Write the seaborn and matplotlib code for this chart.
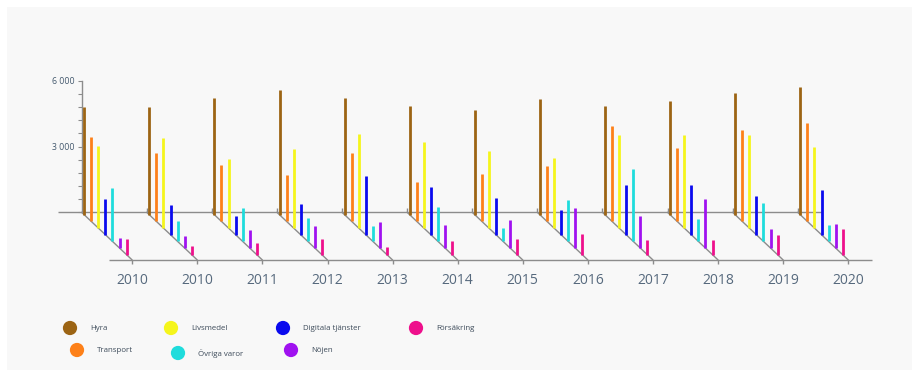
import numpy as np
import pandas as pd
import seaborn as sns
import matplotlib.pyplot as plt
from matplotlib.patches import Rectangle

# data
years = ['2010', '2010', '2011', '2012', '2013', '2014', '2015',
         '2016', '2017', '2018', '2019', '2020']
categories = ['Hyra', 'Transport', 'Livsmedel', 'Digitala tjänster',
              'Övriga varor', 'Nöjen', 'Försäkring']
hyra = [4920, 4920, 5320, 5680, 5320, 4950, 4760, 5260, 4950, 5180, 5550, 5820]
transport = [3860, 3110, 2580, 2120, 3110, 1790, 2180, 2550, 4360, 3330, 4150, 4470]
livsmedel = [3740, 4110, 3150, 3620, 4290, 3920, 3500, 3200, 4260, 4260, 4260, 3700]
digitala = [1610, 1360, 860, 1390, 2680, 2180, 1680, 1140, 2260, 2260, 1760, 2030]
ovriga = [2450, 940, 1530, 1090, 700, 1580, 590, 1880, 3320, 1030, 1760, 760]
nojen = [450, 560, 820, 1000, 1180, 1030, 1290, 1850, 1450, 2240, 860, 1080]
forsakring = [740, 420, 530, 740, 350, 610, 740, 950, 680, 680, 920, 1180]
y_ticks = [0, 600, 1200, 1800, 2400, 3000, 3600, 4200, 4800, 5400, 6000]
y_labels = ['', '', '', '', '', '3 000', '', '', '', '', '6 000']

colors = ['#9c6414', '#fd8019', '#f5f51c', '#0a0aee', '#1fdcdc', '#a012f0', '#ee108c']

df = pd.DataFrame({'year': years, 'Hyra': hyra, 'Transport': transport,
                   'Livsmedel': livsmedel, 'Digitala tjänster': digitala,
                   'Övriga varor': ovriga, 'Nöjen': nojen, 'Försäkring': forsakring})

sns.set_theme(style='white')
plt.rcParams['font.family'] = ['Open Sans', 'DejaVu Sans']
pal = dict(zip(categories, sns.color_palette(colors)))

W, H = 919, 377
fig = plt.figure(figsize=(W / 100, H / 100), dpi=100)
fig.patch.set_facecolor('white')
fig.patches.append(Rectangle((7 / W, 7 / H), (912 - 7) / W, (370 - 7) / H,
                             transform=fig.transFigure, facecolor='#f8f8f8',
                             edgecolor='none', zorder=-10))

# pseudo 3D: depth axis runs down-right
px_x, x0 = 65.1, 81.6          # pixels per group, pixel of first group
px_y, y0 = 45.6, 212.3         # value units per pixel, pixel of zero
DEPTH_X = 50.6 / px_x
DEPTH_Y = 47.7 * px_y
grey = '#8c8c8c'

ax = fig.add_axes([0, 0, 1, 1])
ax.set_facecolor('none')
ax.set_xlim(-x0 / px_x, (W - x0) / px_x)
ax.set_ylim((y0 - H) * px_y, y0 * px_y)

n = len(years)
idx = np.arange(n)
x_lo, x_hi = -0.363, 11.37
ax.hlines(0, x_lo, x_hi, color=grey, lw=1, zorder=1)
ax.hlines(-DEPTH_Y, x_lo + DEPTH_X, x_hi + DEPTH_X, color=grey, lw=1, zorder=1)
for i in idx:
    ax.plot([i, i + DEPTH_X], [0, -DEPTH_Y], color=grey, lw=1, zorder=1)
    if i > 0:
        ax.vlines(i, 0, 4 * px_y, color=grey, lw=1, zorder=1)
    ax.vlines(i + DEPTH_X, -DEPTH_Y, -DEPTH_Y - 4 * px_y, color=grey, lw=1, zorder=1)
    ax.annotate(years[i], (i + DEPTH_X, -DEPTH_Y), xytext=(0, -20),
                textcoords='offset pixels', ha='center', va='center',
                fontsize=10, color='#56697d')

for k, cat in enumerate(categories):
    d = (k + 0.37) / 7.16
    base = -d * DEPTH_Y
    vals = df[cat].to_numpy()
    ax.vlines(idx + d * DEPTH_X, base, base + vals, color=pal[cat], lw=2.0, zorder=3)

for s in ['top', 'right', 'bottom']:
    ax.spines[s].set_visible(False)
ax.spines['left'].set_position(('data', 0))
ax.spines['left'].set_bounds(0, 6000)
ax.spines['left'].set_color(grey)
ax.spines['left'].set_linewidth(1)
ax.set_xticks([])
ax.set_yticks(y_ticks)
ax.set_yticklabels(y_labels)
ax.tick_params(axis='y', left=True, length=3, width=0.8, color=grey,
               labelsize=6.3, labelcolor='#44596e', pad=2)
ax.grid(False)

# legend
lax = fig.add_axes([0, 0, 1, 1])
lax.set_xlim(0, W)
lax.set_ylim(H, 0)
lax.axis('off')
leg_x = [70, 77, 171, 283, 178, 291, 416]
leg_y = [328, 350, 328, 328, 353, 350, 328]
leg = pd.DataFrame({'cat': categories, 'x': leg_x, 'y': leg_y})
sns.scatterplot(data=leg, x='x', y='y', hue='cat', palette=pal, s=105,
                edgecolor='none', legend=False, ax=lax)
for cat, x, y in zip(categories, leg_x, leg_y):
    lax.text(x + 20, y + 0.5, cat, fontsize=5.7, color='#3d4b5a', va='center')

fig.savefig('out.png', dpi=100, facecolor=fig.get_facecolor())
